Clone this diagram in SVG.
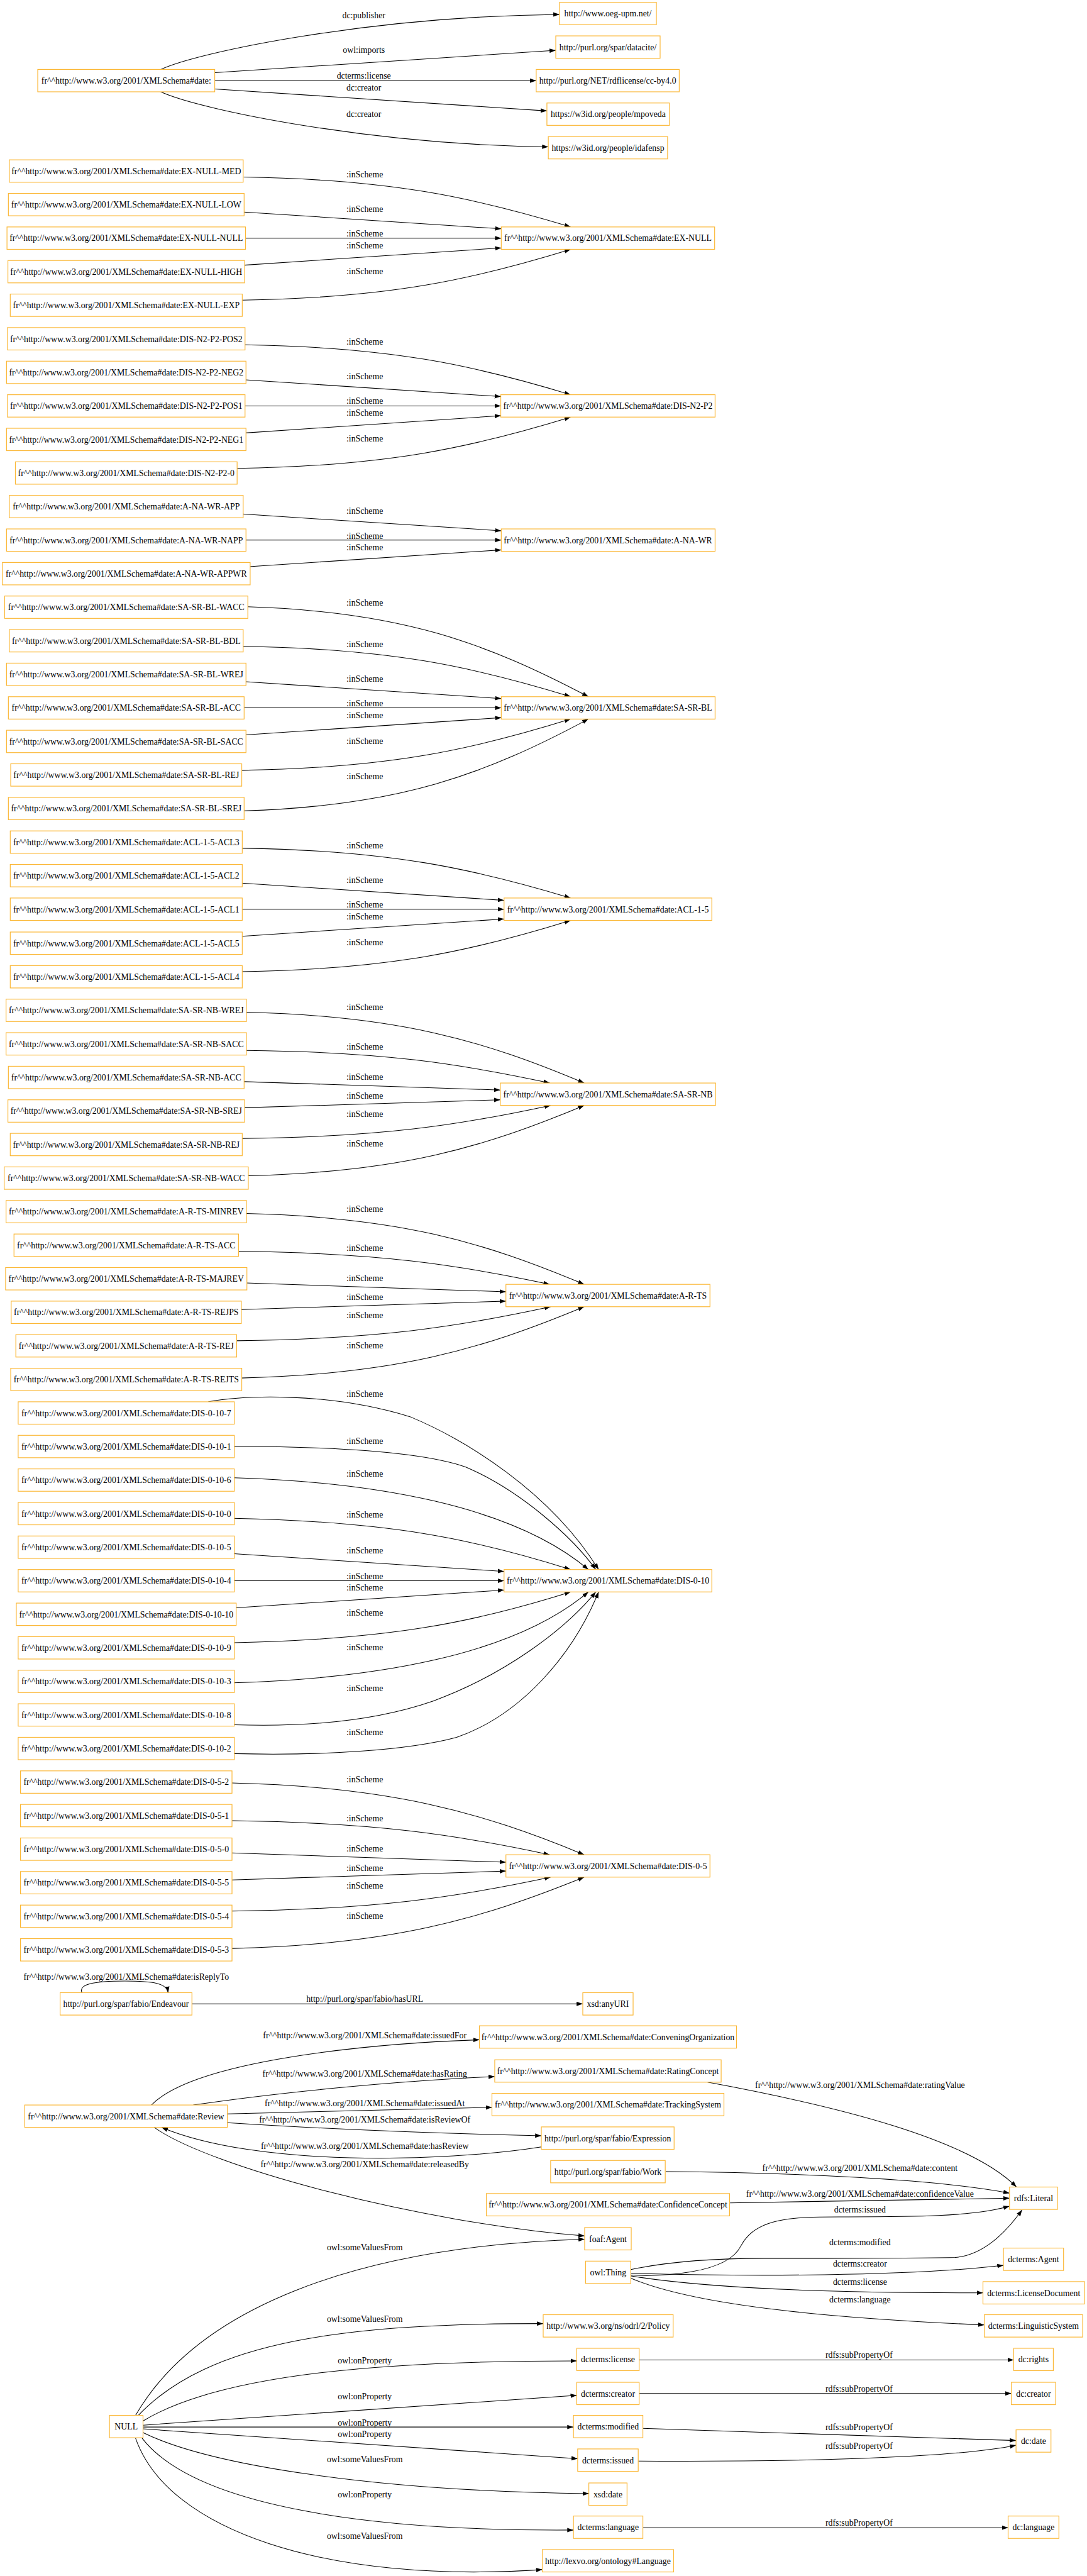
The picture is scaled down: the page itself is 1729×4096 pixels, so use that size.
<svg xmlns="http://www.w3.org/2000/svg" width="1729" height="4096" viewBox="0 0 1729 4096">
<style>
.node rect{fill:#fff;stroke:#FBB735;stroke-width:1.6}
text{font-family:"Liberation Serif","Times New Roman",serif;font-size:18.67px;fill:#000;text-anchor:middle}
.e{fill:none;stroke:#000;stroke-width:1.4;marker-end:url(#ah)}
</style>
<defs>
<marker id="ah" markerUnits="userSpaceOnUse" viewBox="0 -5 14 10" markerWidth="14" markerHeight="10" refX="13.3" refY="0" orient="auto"><path d="M0,-4.7 L13.3,0 L0,4.7 Z" fill="#000"/></marker>
</defs>
<rect width="1729" height="4096" fill="#fff"/>
<g transform="scale(0.741)">
<g id="connectors">
<!-- top -->
<path class="e" d="M345,149 C430,110 800,35 1201,31"/>
<path class="e" d="M461,156 L1193,108"/>
<path class="e" d="M461,173 L1151,173"/>
<path class="e" d="M461,191 L1174,238"/>
<path class="e" d="M345,197 C430,236 800,311 1177,315"/>
<!-- EX-NULL -->
<path class="e" d="M523,380 C839,385 1014,423 1225,487"/>
<path class="e" d="M524,455 L1076,491"/>
<path class="e" d="M526,511 L1076,511"/>
<path class="e" d="M524,569 L1076,532"/>
<path class="e" d="M520,644 C837,639 1014,600 1225,535"/>
<!-- DIS-N2-P2 -->
<path class="e" d="M525,740 C840,745 1015,783 1225,847"/>
<path class="e" d="M527,815 L1075,851"/>
<path class="e" d="M525,871 L1075,871"/>
<path class="e" d="M527,929 L1075,892"/>
<path class="e" d="M508,1005 C831,1000 1010,961 1225,895"/>
<!-- A-NA-WR -->
<path class="e" d="M520,1103 L1076,1139"/>
<path class="e" d="M527,1159 L1076,1159"/>
<path class="e" d="M535,1216 L1076,1180"/>
<!-- SA-SR-BL -->
<path class="e" d="M531,1302 C860,1312 1043,1379 1263,1495"/>
<path class="e" d="M521,1387 C838,1392 1014,1430 1225,1495"/>
<path class="e" d="M528,1463 L1076,1499"/>
<path class="e" d="M521,1519 L1076,1519"/>
<path class="e" d="M527,1577 L1076,1540"/>
<path class="e" d="M518,1653 C836,1648 1013,1609 1225,1543"/>
<path class="e" d="M523,1740 C856,1730 1041,1662 1263,1543"/>
<!-- ACL-1-5 -->
<path class="e" d="M519,1820 C837,1825 1013,1863 1225,1927"/>
<path class="e" d="M519,1895 L1082,1932"/>
<path class="e" d="M519,1951 L1082,1951"/>
<path class="e" d="M519,2009 L1082,1972"/>
<path class="e" d="M519,2085 C837,2080 1013,2041 1225,1975"/>
<!-- SA-SR-NB -->
<path class="e" d="M528,2172 C855,2180 1036,2232 1254,2324"/>
<path class="e" d="M528,2254 C821,2257 985,2282 1180,2324"/>
<path class="e" d="M523,2321 L1074,2339"/>
<path class="e" d="M524,2377 L1074,2360"/>
<path class="e" d="M519,2443 C817,2440 983,2415 1182,2372"/>
<path class="e" d="M532,2523 C857,2515 1037,2463 1254,2372"/>
<!-- A-R-TS -->
<path class="e" d="M528,2604 C855,2612 1036,2664 1254,2756"/>
<path class="e" d="M511,2685 C812,2689 979,2713 1180,2756"/>
<path class="e" d="M529,2753 L1086,2772"/>
<path class="e" d="M518,2810 L1086,2792"/>
<path class="e" d="M508,2877 C811,2873 980,2848 1182,2804"/>
<path class="e" d="M518,2957 C849,2949 1033,2896 1254,2804"/>
<!-- DIS-0-10 -->
<path class="e" d="M447,3008 C520,2995 700,2985 880,3040 C1000,3090 1180,3200 1285,3368"/>
<path class="e" d="M502,3104 C760,3104 920,3120 1000,3148 C1120,3200 1230,3300 1279,3368"/>
<path class="e" d="M502,3171 C800,3180 1100,3230 1263,3368"/>
<path class="e" d="M502,3258 C830,3265 1010,3300 1225,3368"/>
<path class="e" d="M502,3334 L1082,3372"/>
<path class="e" d="M502,3392 L1082,3392"/>
<path class="e" d="M506,3450 L1082,3412"/>
<path class="e" d="M502,3525 C830,3518 1010,3484 1225,3416"/>
<path class="e" d="M502,3611 C800,3602 1100,3554 1263,3416"/>
<path class="e" d="M502,3701 C650,3706 800,3695 930,3650 C1080,3595 1210,3500 1279,3416"/>
<path class="e" d="M502,3763 C700,3768 880,3755 980,3728 C1120,3680 1230,3550 1285,3416"/>
<!-- DIS-0-5 -->
<path class="e" d="M497,3826 C835,3834 1030,3887 1254,3980"/>
<path class="e" d="M497,3907 C804,3911 975,3936 1180,3980"/>
<path class="e" d="M497,3976 L1086,3996"/>
<path class="e" d="M497,4034 L1086,4015"/>
<path class="e" d="M497,4101 C805,4097 977,4072 1182,4028"/>
<path class="e" d="M497,4181 C838,4173 1027,4120 1254,4028"/>
<!-- Endeavour -->
<path class="e" d="M176,4276 C168,4258 200,4251 268,4251 C330,4251 358,4256 361,4276"/>
<path class="e" d="M412,4300 L1251,4300"/>
<!-- Review -->
<path class="e" d="M325,4517 C420,4420 800,4385 1029,4377"/>
<path class="e" d="M415,4517 C600,4490 850,4465 1062,4456"/>
<path class="e" d="M488,4536 L1056,4522"/>
<path class="e" d="M488,4555 Q800,4575 1162,4583"/>
<path class="e" d="M1162,4607 C950,4640 550,4650 347,4565"/>
<path class="e" d="M331,4565 C450,4650 900,4770 1255,4798"/>
<path class="e" d="M1519,4468 C1800,4520 2080,4590 2182,4693"/>
<path class="e" d="M1429,4660 C1700,4662 2000,4675 2167,4706"/>
<path class="e" d="M1567,4727 L2167,4717"/>
<!-- owl:Thing -->
<path class="e" d="M1355,4882 C1420,4885 1560,4880 1590,4820 C1620,4760 1700,4757 1800,4757 C1950,4757 2080,4758 2167,4734"/>
<path class="e" d="M1354,4870 C1450,4850 1550,4846 1640,4846 C1800,4846 1950,4846 2050,4844 C2110,4840 2160,4790 2194,4742"/>
<path class="e" d="M1355,4878 C1600,4885 1950,4885 2154,4861"/>
<path class="e" d="M1355,4884 C1550,4915 1850,4920 2110,4920"/>
<path class="e" d="M1355,4889 C1500,4950 1800,4975 2113,4989"/>
<!-- NULL -->
<path class="e" d="M291,5183 C420,4960 750,4820 1255,4805"/>
<path class="e" d="M295,5185 C450,5020 750,4986 1166,4986"/>
<path class="e" d="M307,5195 C480,5090 850,5066 1238,5066"/>
<path class="e" d="M307,5204 L1238,5140"/>
<path class="e" d="M307,5208 L1231,5208"/>
<path class="e" d="M307,5212 L1240,5276"/>
<path class="e" d="M307,5220 C450,5290 800,5345 1264,5351"/>
<path class="e" d="M305,5232 C420,5380 800,5432 1231,5429"/>
<path class="e" d="M291,5232 C360,5430 700,5545 1164,5514"/>
<!-- subPropertyOf -->
<path class="e" d="M1372,5064 L2176,5064"/>
<path class="e" d="M1372,5136 L2171,5136"/>
<path class="e" d="M1380,5211 L2181,5237"/>
<path class="e" d="M1370,5281 C1700,5283 2050,5275 2181,5247"/>
<path class="e" d="M1380,5424 L2164,5424"/>
</g>
<g id="edge-labels">
<text x="781" y="39">dc:publisher</text>
<text x="781" y="114">owl:imports</text>
<text x="781" y="169">dcterms:license</text>
<text x="781" y="195">dc:creator</text>
<text x="781" y="251">dc:creator</text>
<text x="783" y="380">:inScheme</text><text x="783" y="455">:inScheme</text><text x="783" y="508">:inScheme</text><text x="783" y="533">:inScheme</text><text x="783" y="588">:inScheme</text>
<text x="783" y="739">:inScheme</text><text x="783" y="814">:inScheme</text><text x="783" y="867">:inScheme</text><text x="783" y="892">:inScheme</text><text x="783" y="947">:inScheme</text>
<text x="783" y="1103">:inScheme</text><text x="783" y="1156">:inScheme</text><text x="783" y="1181">:inScheme</text>
<text x="783" y="1300">:inScheme</text><text x="783" y="1388">:inScheme</text><text x="783" y="1463">:inScheme</text><text x="783" y="1516">:inScheme</text><text x="783" y="1541">:inScheme</text><text x="783" y="1596">:inScheme</text><text x="783" y="1672">:inScheme</text>
<text x="783" y="1820">:inScheme</text><text x="783" y="1895">:inScheme</text><text x="783" y="1948">:inScheme</text><text x="783" y="1973">:inScheme</text><text x="783" y="2028">:inScheme</text>
<text x="783" y="2168">:inScheme</text><text x="783" y="2252">:inScheme</text><text x="783" y="2317">:inScheme</text><text x="783" y="2358">:inScheme</text><text x="783" y="2397">:inScheme</text><text x="783" y="2460">:inScheme</text>
<text x="783" y="2601">:inScheme</text><text x="783" y="2684">:inScheme</text><text x="783" y="2749">:inScheme</text><text x="783" y="2790">:inScheme</text><text x="783" y="2828">:inScheme</text><text x="783" y="2893">:inScheme</text>
<text x="783" y="2997">:inScheme</text><text x="783" y="3099">:inScheme</text><text x="783" y="3169">:inScheme</text><text x="783" y="3257">:inScheme</text><text x="783" y="3333">:inScheme</text><text x="783" y="3388">:inScheme</text><text x="783" y="3413">:inScheme</text><text x="783" y="3467">:inScheme</text><text x="783" y="3541">:inScheme</text><text x="783" y="3629">:inScheme</text><text x="783" y="3723">:inScheme</text>
<text x="783" y="3825">:inScheme</text><text x="783" y="3908">:inScheme</text><text x="783" y="3973">:inScheme</text><text x="783" y="4015">:inScheme</text><text x="783" y="4053">:inScheme</text><text x="783" y="4117">:inScheme</text>
<text x="271" y="4248">fr^^http://www.w3.org/2001/XMLSchema#date:isReplyTo</text>
<text x="783" y="4295">http://purl.org/spar/fabio/hasURL</text>
<text x="783" y="4374">fr^^http://www.w3.org/2001/XMLSchema#date:issuedFor</text>
<text x="783" y="4456">fr^^http://www.w3.org/2001/XMLSchema#date:hasRating</text>
<text x="783" y="4519">fr^^http://www.w3.org/2001/XMLSchema#date:issuedAt</text>
<text x="783" y="4555">fr^^http://www.w3.org/2001/XMLSchema#date:isReviewOf</text>
<text x="783" y="4612">fr^^http://www.w3.org/2001/XMLSchema#date:hasReview</text>
<text x="783" y="4651">fr^^http://www.w3.org/2001/XMLSchema#date:releasedBy</text>
<text x="1846" y="4481">fr^^http://www.w3.org/2001/XMLSchema#date:ratingValue</text>
<text x="1846" y="4659">fr^^http://www.w3.org/2001/XMLSchema#date:content</text>
<text x="1846" y="4714">fr^^http://www.w3.org/2001/XMLSchema#date:confidenceValue</text>
<text x="1846" y="4748">dcterms:issued</text>
<text x="1846" y="4818">dcterms:modified</text>
<text x="1846" y="4864">dcterms:creator</text>
<text x="1846" y="4903">dcterms:license</text>
<text x="1846" y="4941">dcterms:language</text>
<text x="783" y="4828">owl:someValuesFrom</text>
<text x="783" y="4983">owl:someValuesFrom</text>
<text x="783" y="5072">owl:onProperty</text>
<text x="783" y="5148">owl:onProperty</text>
<text x="783" y="5205">owl:onProperty</text>
<text x="783" y="5229">owl:onProperty</text>
<text x="783" y="5284">owl:someValuesFrom</text>
<text x="783" y="5359">owl:onProperty</text>
<text x="783" y="5448">owl:someValuesFrom</text>
<text x="1844" y="5060">rdfs:subPropertyOf</text>
<text x="1844" y="5132">rdfs:subPropertyOf</text>
<text x="1844" y="5215">rdfs:subPropertyOf</text>
<text x="1844" y="5255">rdfs:subPropertyOf</text>
<text x="1844" y="5420">rdfs:subPropertyOf</text>
</g>
<g id="n_date" class="node"><rect x="81" y="149" width="380" height="48"/><text x="271" y="179.5">fr^^http://www.w3.org/2001/XMLSchema#date:</text></g>
<g id="n_oeg" class="node"><rect x="1201" y="5" width="208" height="48"/><text x="1305" y="35.5">http://www.oeg-upm.net/</text></g>
<g id="n_datacite" class="node"><rect x="1193" y="77" width="224" height="48"/><text x="1305" y="107.5">http://purl.org/spar/datacite/</text></g>
<g id="n_ccby" class="node"><rect x="1151" y="149" width="307" height="48"/><text x="1304.5" y="179.5">http://purl.org/NET/rdflicense/cc-by4.0</text></g>
<g id="n_mpoveda" class="node"><rect x="1174" y="221" width="263" height="48"/><text x="1305.5" y="251.5">https://w3id.org/people/mpoveda</text></g>
<g id="n_idafensp" class="node"><rect x="1177" y="293" width="256" height="48"/><text x="1305" y="323.5">https://w3id.org/people/idafensp</text></g>

<g id="n_exnull_med" class="node"><rect x="20" y="343" width="502" height="48"/><text x="271" y="373.5">fr^^http://www.w3.org/2001/XMLSchema#date:EX-NULL-MED</text></g>
<g id="n_exnull_low" class="node"><rect x="18" y="415" width="506" height="48"/><text x="271" y="445.5">fr^^http://www.w3.org/2001/XMLSchema#date:EX-NULL-LOW</text></g>
<g id="n_exnull_null" class="node"><rect x="15" y="487" width="512" height="48"/><text x="271" y="517.5">fr^^http://www.w3.org/2001/XMLSchema#date:EX-NULL-NULL</text></g>
<g id="n_exnull_high" class="node"><rect x="17" y="559" width="508" height="48"/><text x="271" y="589.5">fr^^http://www.w3.org/2001/XMLSchema#date:EX-NULL-HIGH</text></g>
<g id="n_exnull_exp" class="node"><rect x="22" y="631" width="498" height="48"/><text x="271" y="661.5">fr^^http://www.w3.org/2001/XMLSchema#date:EX-NULL-EXP</text></g>
<g id="n_exnull" class="node"><rect x="1076" y="487" width="458" height="48"/><text x="1305" y="517.5">fr^^http://www.w3.org/2001/XMLSchema#date:EX-NULL</text></g>

<g id="n_pos2" class="node"><rect x="16" y="703" width="510" height="48"/><text x="271" y="733.5">fr^^http://www.w3.org/2001/XMLSchema#date:DIS-N2-P2-POS2</text></g>
<g id="n_neg2" class="node"><rect x="14" y="775" width="514" height="48"/><text x="271" y="805.5">fr^^http://www.w3.org/2001/XMLSchema#date:DIS-N2-P2-NEG2</text></g>
<g id="n_pos1" class="node"><rect x="16" y="847" width="510" height="48"/><text x="271" y="877.5">fr^^http://www.w3.org/2001/XMLSchema#date:DIS-N2-P2-POS1</text></g>
<g id="n_neg1" class="node"><rect x="14" y="919" width="514" height="48"/><text x="271" y="949.5">fr^^http://www.w3.org/2001/XMLSchema#date:DIS-N2-P2-NEG1</text></g>
<g id="n_n2p2_0" class="node"><rect x="33" y="991" width="476" height="48"/><text x="271" y="1021.5">fr^^http://www.w3.org/2001/XMLSchema#date:DIS-N2-P2-0</text></g>
<g id="n_disn2p2" class="node"><rect x="1075" y="847" width="460" height="48"/><text x="1305" y="877.5">fr^^http://www.w3.org/2001/XMLSchema#date:DIS-N2-P2</text></g>

<g id="n_anawr_app" class="node"><rect x="20" y="1063" width="502" height="48"/><text x="271" y="1093.5">fr^^http://www.w3.org/2001/XMLSchema#date:A-NA-WR-APP</text></g>
<g id="n_anawr_napp" class="node"><rect x="14" y="1135" width="514" height="48"/><text x="271" y="1165.5">fr^^http://www.w3.org/2001/XMLSchema#date:A-NA-WR-NAPP</text></g>
<g id="n_anawr_appwr" class="node"><rect x="5" y="1207" width="532" height="48"/><text x="271" y="1237.5">fr^^http://www.w3.org/2001/XMLSchema#date:A-NA-WR-APPWR</text></g>
<g id="n_anawr" class="node"><rect x="1076" y="1135" width="459" height="48"/><text x="1305" y="1165.5">fr^^http://www.w3.org/2001/XMLSchema#date:A-NA-WR</text></g>

<g id="n_bl_wacc" class="node"><rect x="10" y="1279" width="522" height="48"/><text x="271" y="1309.5">fr^^http://www.w3.org/2001/XMLSchema#date:SA-SR-BL-WACC</text></g>
<g id="n_bl_bdl" class="node"><rect x="20" y="1351" width="502" height="48"/><text x="271" y="1381.5">fr^^http://www.w3.org/2001/XMLSchema#date:SA-SR-BL-BDL</text></g>
<g id="n_bl_wrej" class="node"><rect x="14" y="1423" width="514" height="48"/><text x="271" y="1453.5">fr^^http://www.w3.org/2001/XMLSchema#date:SA-SR-BL-WREJ</text></g>
<g id="n_bl_acc" class="node"><rect x="18" y="1495" width="506" height="48"/><text x="271" y="1525.5">fr^^http://www.w3.org/2001/XMLSchema#date:SA-SR-BL-ACC</text></g>
<g id="n_bl_sacc" class="node"><rect x="14" y="1567" width="514" height="48"/><text x="271" y="1597.5">fr^^http://www.w3.org/2001/XMLSchema#date:SA-SR-BL-SACC</text></g>
<g id="n_bl_rej" class="node"><rect x="23" y="1639" width="496" height="48"/><text x="271" y="1669.5">fr^^http://www.w3.org/2001/XMLSchema#date:SA-SR-BL-REJ</text></g>
<g id="n_bl_srej" class="node"><rect x="18" y="1711" width="506" height="48"/><text x="271" y="1741.5">fr^^http://www.w3.org/2001/XMLSchema#date:SA-SR-BL-SREJ</text></g>
<g id="n_sasrbl" class="node"><rect x="1076" y="1495" width="459" height="48"/><text x="1305" y="1525.5">fr^^http://www.w3.org/2001/XMLSchema#date:SA-SR-BL</text></g>

<g id="n_acl3" class="node"><rect x="22" y="1783" width="498" height="48"/><text x="271" y="1813.5">fr^^http://www.w3.org/2001/XMLSchema#date:ACL-1-5-ACL3</text></g>
<g id="n_acl2" class="node"><rect x="22" y="1855" width="498" height="48"/><text x="271" y="1885.5">fr^^http://www.w3.org/2001/XMLSchema#date:ACL-1-5-ACL2</text></g>
<g id="n_acl1" class="node"><rect x="22" y="1927" width="498" height="48"/><text x="271" y="1957.5">fr^^http://www.w3.org/2001/XMLSchema#date:ACL-1-5-ACL1</text></g>
<g id="n_acl5" class="node"><rect x="22" y="2000" width="498" height="48"/><text x="271" y="2030.5">fr^^http://www.w3.org/2001/XMLSchema#date:ACL-1-5-ACL5</text></g>
<g id="n_acl4" class="node"><rect x="22" y="2072" width="498" height="48"/><text x="271" y="2102.5">fr^^http://www.w3.org/2001/XMLSchema#date:ACL-1-5-ACL4</text></g>
<g id="n_acl15" class="node"><rect x="1082" y="1927" width="446" height="48"/><text x="1305" y="1957.5">fr^^http://www.w3.org/2001/XMLSchema#date:ACL-1-5</text></g>

<g id="n_nb_wrej" class="node"><rect x="13" y="2144" width="516" height="48"/><text x="271" y="2174.5">fr^^http://www.w3.org/2001/XMLSchema#date:SA-SR-NB-WREJ</text></g>
<g id="n_nb_sacc" class="node"><rect x="13" y="2216" width="516" height="48"/><text x="271" y="2246.5">fr^^http://www.w3.org/2001/XMLSchema#date:SA-SR-NB-SACC</text></g>
<g id="n_nb_acc" class="node"><rect x="18" y="2288" width="506" height="48"/><text x="271" y="2318.5">fr^^http://www.w3.org/2001/XMLSchema#date:SA-SR-NB-ACC</text></g>
<g id="n_nb_srej" class="node"><rect x="17" y="2360" width="508" height="48"/><text x="271" y="2390.5">fr^^http://www.w3.org/2001/XMLSchema#date:SA-SR-NB-SREJ</text></g>
<g id="n_nb_rej" class="node"><rect x="22" y="2432" width="498" height="48"/><text x="271" y="2462.5">fr^^http://www.w3.org/2001/XMLSchema#date:SA-SR-NB-REJ</text></g>
<g id="n_nb_wacc" class="node"><rect x="9" y="2504" width="524" height="48"/><text x="271" y="2534.5">fr^^http://www.w3.org/2001/XMLSchema#date:SA-SR-NB-WACC</text></g>
<g id="n_sasrnb" class="node"><rect x="1074" y="2324" width="462" height="48"/><text x="1305" y="2354.5">fr^^http://www.w3.org/2001/XMLSchema#date:SA-SR-NB</text></g>

<g id="n_ts_minrev" class="node"><rect x="13" y="2576" width="516" height="48"/><text x="271" y="2606.5">fr^^http://www.w3.org/2001/XMLSchema#date:A-R-TS-MINREV</text></g>
<g id="n_ts_acc" class="node"><rect x="30" y="2648" width="482" height="48"/><text x="271" y="2678.5">fr^^http://www.w3.org/2001/XMLSchema#date:A-R-TS-ACC</text></g>
<g id="n_ts_majrev" class="node"><rect x="12" y="2720" width="518" height="48"/><text x="271" y="2750.5">fr^^http://www.w3.org/2001/XMLSchema#date:A-R-TS-MAJREV</text></g>
<g id="n_ts_rejps" class="node"><rect x="24" y="2792" width="494" height="48"/><text x="271" y="2822.5">fr^^http://www.w3.org/2001/XMLSchema#date:A-R-TS-REJPS</text></g>
<g id="n_ts_rej" class="node"><rect x="34" y="2864" width="474" height="48"/><text x="271" y="2894.5">fr^^http://www.w3.org/2001/XMLSchema#date:A-R-TS-REJ</text></g>
<g id="n_ts_rejts" class="node"><rect x="23" y="2936" width="496" height="48"/><text x="271" y="2966.5">fr^^http://www.w3.org/2001/XMLSchema#date:A-R-TS-REJTS</text></g>
<g id="n_arts" class="node"><rect x="1086" y="2756" width="438" height="48"/><text x="1305" y="2786.5">fr^^http://www.w3.org/2001/XMLSchema#date:A-R-TS</text></g>

<g id="n_d10_7" class="node"><rect x="39" y="3008" width="464" height="48"/><text x="271" y="3038.5">fr^^http://www.w3.org/2001/XMLSchema#date:DIS-0-10-7</text></g>
<g id="n_d10_1" class="node"><rect x="39" y="3080" width="464" height="48"/><text x="271" y="3110.5">fr^^http://www.w3.org/2001/XMLSchema#date:DIS-0-10-1</text></g>
<g id="n_d10_6" class="node"><rect x="39" y="3152" width="464" height="48"/><text x="271" y="3182.5">fr^^http://www.w3.org/2001/XMLSchema#date:DIS-0-10-6</text></g>
<g id="n_d10_0" class="node"><rect x="39" y="3224" width="464" height="48"/><text x="271" y="3254.5">fr^^http://www.w3.org/2001/XMLSchema#date:DIS-0-10-0</text></g>
<g id="n_d10_5" class="node"><rect x="39" y="3296" width="464" height="48"/><text x="271" y="3326.5">fr^^http://www.w3.org/2001/XMLSchema#date:DIS-0-10-5</text></g>
<g id="n_d10_4" class="node"><rect x="39" y="3368" width="464" height="48"/><text x="271" y="3398.5">fr^^http://www.w3.org/2001/XMLSchema#date:DIS-0-10-4</text></g>
<g id="n_d10_10" class="node"><rect x="35" y="3440" width="472" height="48"/><text x="271" y="3470.5">fr^^http://www.w3.org/2001/XMLSchema#date:DIS-0-10-10</text></g>
<g id="n_d10_9" class="node"><rect x="39" y="3512" width="464" height="48"/><text x="271" y="3542.5">fr^^http://www.w3.org/2001/XMLSchema#date:DIS-0-10-9</text></g>
<g id="n_d10_3" class="node"><rect x="39" y="3584" width="464" height="48"/><text x="271" y="3614.5">fr^^http://www.w3.org/2001/XMLSchema#date:DIS-0-10-3</text></g>
<g id="n_d10_8" class="node"><rect x="39" y="3656" width="464" height="48"/><text x="271" y="3686.5">fr^^http://www.w3.org/2001/XMLSchema#date:DIS-0-10-8</text></g>
<g id="n_d10_2" class="node"><rect x="39" y="3728" width="464" height="48"/><text x="271" y="3758.5">fr^^http://www.w3.org/2001/XMLSchema#date:DIS-0-10-2</text></g>
<g id="n_dis010" class="node"><rect x="1082" y="3368" width="446" height="48"/><text x="1305" y="3398.5">fr^^http://www.w3.org/2001/XMLSchema#date:DIS-0-10</text></g>

<g id="n_d5_2" class="node"><rect x="44" y="3800" width="454" height="48"/><text x="271" y="3830.5">fr^^http://www.w3.org/2001/XMLSchema#date:DIS-0-5-2</text></g>
<g id="n_d5_1" class="node"><rect x="44" y="3872" width="454" height="48"/><text x="271" y="3902.5">fr^^http://www.w3.org/2001/XMLSchema#date:DIS-0-5-1</text></g>
<g id="n_d5_0" class="node"><rect x="44" y="3944" width="454" height="48"/><text x="271" y="3974.5">fr^^http://www.w3.org/2001/XMLSchema#date:DIS-0-5-0</text></g>
<g id="n_d5_5" class="node"><rect x="44" y="4016" width="454" height="48"/><text x="271" y="4046.5">fr^^http://www.w3.org/2001/XMLSchema#date:DIS-0-5-5</text></g>
<g id="n_d5_4" class="node"><rect x="44" y="4088" width="454" height="48"/><text x="271" y="4118.5">fr^^http://www.w3.org/2001/XMLSchema#date:DIS-0-5-4</text></g>
<g id="n_d5_3" class="node"><rect x="44" y="4160" width="454" height="48"/><text x="271" y="4190.5">fr^^http://www.w3.org/2001/XMLSchema#date:DIS-0-5-3</text></g>
<g id="n_dis05" class="node"><rect x="1086" y="3980" width="438" height="48"/><text x="1305" y="4010.5">fr^^http://www.w3.org/2001/XMLSchema#date:DIS-0-5</text></g>

<g id="n_endeavour" class="node"><rect x="129" y="4276" width="283" height="48"/><text x="270.5" y="4306.5">http://purl.org/spar/fabio/Endeavour</text></g>
<g id="n_anyuri" class="node"><rect x="1251" y="4276" width="108" height="48"/><text x="1305" y="4306.5">xsd:anyURI</text></g>
<g id="n_convening" class="node"><rect x="1029" y="4347" width="552" height="48"/><text x="1305" y="4377.5">fr^^http://www.w3.org/2001/XMLSchema#date:ConveningOrganization</text></g>
<g id="n_rating" class="node"><rect x="1062" y="4420" width="486" height="48"/><text x="1305" y="4450.5">fr^^http://www.w3.org/2001/XMLSchema#date:RatingConcept</text></g>
<g id="n_tracking" class="node"><rect x="1056" y="4492" width="498" height="48"/><text x="1305" y="4522.5">fr^^http://www.w3.org/2001/XMLSchema#date:TrackingSystem</text></g>
<g id="n_review" class="node"><rect x="53" y="4517" width="435" height="48"/><text x="270.5" y="4547.5">fr^^http://www.w3.org/2001/XMLSchema#date:Review</text></g>
<g id="n_expression" class="node"><rect x="1162" y="4564" width="285" height="48"/><text x="1304.5" y="4594.5">http://purl.org/spar/fabio/Expression</text></g>
<g id="n_work" class="node"><rect x="1182" y="4636" width="246" height="48"/><text x="1305" y="4666.5">http://purl.org/spar/fabio/Work</text></g>
<g id="n_confidence" class="node"><rect x="1044" y="4707" width="522" height="48"/><text x="1305" y="4737.5">fr^^http://www.w3.org/2001/XMLSchema#date:ConfidenceConcept</text></g>
<g id="n_foafagent" class="node"><rect x="1255" y="4780" width="100" height="48"/><text x="1305" y="4810.5">foaf:Agent</text></g>
<g id="n_thing" class="node"><rect x="1257" y="4852" width="97" height="48"/><text x="1305.5" y="4882.5">owl:Thing</text></g>
<g id="n_literal" class="node"><rect x="2167" y="4693" width="103" height="48"/><text x="2218.5" y="4723.5">rdfs:Literal</text></g>
<g id="n_dctagent" class="node"><rect x="2154" y="4824" width="129" height="48"/><text x="2218.5" y="4854.5">dcterms:Agent</text></g>
<g id="n_licdoc" class="node"><rect x="2110" y="4896" width="218" height="48"/><text x="2219" y="4926.5">dcterms:LicenseDocument</text></g>
<g id="n_lingsys" class="node"><rect x="2113" y="4967" width="211" height="48"/><text x="2218.5" y="4997.5">dcterms:LinguisticSystem</text></g>
<g id="n_policy" class="node"><rect x="1166" y="4967" width="279" height="48"/><text x="1305.5" y="4997.5">http://www.w3.org/ns/odrl/2/Policy</text></g>
<g id="n_dct_license" class="node"><rect x="1238" y="5039" width="134" height="48"/><text x="1305" y="5069.5">dcterms:license</text></g>
<g id="n_dct_creator" class="node"><rect x="1238" y="5112" width="134" height="48"/><text x="1305" y="5142.5">dcterms:creator</text></g>
<g id="n_dct_modified" class="node"><rect x="1231" y="5183" width="149" height="48"/><text x="1305.5" y="5213.5">dcterms:modified</text></g>
<g id="n_dct_issued" class="node"><rect x="1240" y="5255" width="130" height="48"/><text x="1305" y="5285.5">dcterms:issued</text></g>
<g id="n_xsddate" class="node"><rect x="1264" y="5328" width="82" height="48"/><text x="1305" y="5358.5">xsd:date</text></g>
<g id="n_dct_language" class="node"><rect x="1231" y="5399" width="149" height="48"/><text x="1305.5" y="5429.5">dcterms:language</text></g>
<g id="n_lexvo" class="node"><rect x="1164" y="5471" width="282" height="48"/><text x="1305" y="5501.5">http://lexvo.org/ontology#Language</text></g>
<g id="n_null" class="node"><rect x="235" y="5183" width="72" height="48"/><text x="271" y="5213.5">NULL</text></g>
<g id="n_dcrights" class="node"><rect x="2176" y="5039" width="85" height="48"/><text x="2218.5" y="5069.5">dc:rights</text></g>
<g id="n_dccreator" class="node"><rect x="2171" y="5112" width="95" height="48"/><text x="2218.5" y="5142.5">dc:creator</text></g>
<g id="n_dcdate" class="node"><rect x="2181" y="5214" width="75" height="48"/><text x="2218.5" y="5244.5">dc:date</text></g>
<g id="n_dclanguage" class="node"><rect x="2164" y="5399" width="109" height="48"/><text x="2218.5" y="5429.5">dc:language</text></g>
</g>
</svg>
